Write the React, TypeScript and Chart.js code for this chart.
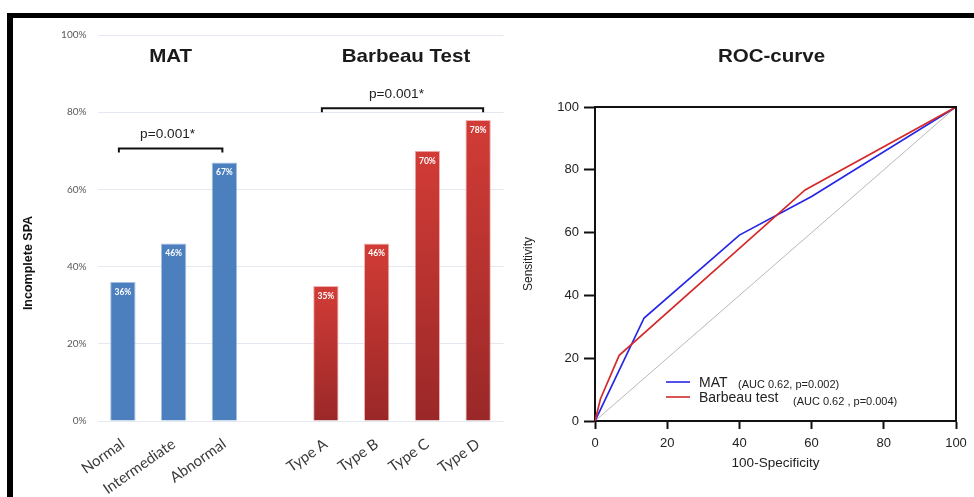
import React, { useEffect, useRef } from "react";
import { Chart, registerables } from "chart.js";
Chart.register(...registerables);

// ---- data ----
const barCategories = ["Normal", "Intermediate", "Abnormal", "", "Type A", "Type B", "Type C", "Type D"];
const barValues: (number | null)[] = [36, 46, 67, null, 35, 46, 70, 78];
const barGroup = ["MAT", "MAT", "MAT", "", "Barbeau", "Barbeau", "Barbeau", "Barbeau"];
const groupTitles = ["MAT", "Barbeau Test"];
const pValueLabels = ["p=0.001*", "p=0.001*"];
const pBracketLevels = [70.6, 81];

const rocMatX = [0, 13.6, 40, 60, 100];
const rocMatY = [0, 32.8, 59.2, 71.5, 100];
const rocBarX = [0, 1.5, 6.7, 58.2, 100];
const rocBarY = [0, 7, 20.9, 73.6, 100];
const rocRefX = [0, 100];
const rocRefY = [0, 100];
const legendNames = ["MAT", "Barbeau test"];
const legendNotes = ["(AUC 0.62, p=0.002)", "(AUC 0.62 , p=0.004)"];

const BLUE = "#4b7fbd";
const SANS = "'Liberation Sans', Arial, sans-serif";
const LATO = "Lato, 'Liberation Sans', sans-serif";

function stretchedText(ctx: CanvasRenderingContext2D, text: string, cx: number, baseline: number, font: string, sx: number, color: string) {
  ctx.save();
  ctx.translate(cx, baseline);
  ctx.scale(sx, 1);
  ctx.font = font;
  ctx.fillStyle = color;
  ctx.textAlign = "center";
  ctx.textBaseline = "alphabetic";
  ctx.fillText(text, 0, 0);
  ctx.restore();
}

const leftDecor = {
  id: "leftDecor",
  afterDatasetsDraw(chart: any) {
    const { ctx, scales } = chart;
    const x = scales.x, y = scales.y;
    ctx.save();
    // value labels
    ctx.fillStyle = "#ffffff";
    ctx.font = `bold 8.5px ${LATO}`;
    ctx.textAlign = "center";
    ctx.textBaseline = "middle";
    barValues.forEach((v, i) => {
      if (v == null) return;
      ctx.fillText(v + "%", x.getPixelForValue(i), y.getPixelForValue(v) + 10);
    });
    // group titles
    const matC = (x.getPixelForValue(0) + x.getPixelForValue(2)) / 2;
    const barC = (x.getPixelForValue(4) + x.getPixelForValue(7)) / 2;
    stretchedText(ctx, groupTitles[0], matC - 3, 44, `bold 19px ${SANS}`, 1.08, "#1a1a1a");
    stretchedText(ctx, groupTitles[1], barC + 4, 44, `bold 19px ${SANS}`, 1.08, "#1a1a1a");
    // brackets
    ctx.strokeStyle = "#111";
    ctx.lineWidth = 2;
    const brackets = [
      { x0: x.getPixelForValue(0) - 4, x1: x.getPixelForValue(2) - 2, lvl: pBracketLevels[0], dx: -3 },
      { x0: x.getPixelForValue(4) - 4, x1: x.getPixelForValue(7) + 5, lvl: pBracketLevels[1], dx: -6 },
    ];
    brackets.forEach((b, k) => {
      const yb = y.getPixelForValue(b.lvl);
      ctx.beginPath();
      ctx.moveTo(b.x0, yb + 4);
      ctx.lineTo(b.x0, yb);
      ctx.lineTo(b.x1, yb);
      ctx.lineTo(b.x1, yb + 4);
      ctx.stroke();
      stretchedText(ctx, pValueLabels[k], (b.x0 + b.x1) / 2 + b.dx, yb - 10, `13px ${SANS}`, 1.05, "#222");
    });
    // y title
    ctx.save();
    ctx.translate(16, 245);
    ctx.rotate(-Math.PI / 2);
    ctx.font = `bold 12.5px ${SANS}`;
    ctx.fillStyle = "#111";
    ctx.textAlign = "center";
    ctx.textBaseline = "middle";
    ctx.fillText("Incomplete SPA", 0, 0);
    ctx.restore();
    ctx.restore();
  },
};

const rightDecor = {
  id: "rightDecor",
  afterDraw(chart: any) {
    const { ctx, chartArea } = chart;
    const { left, right, top, bottom } = chartArea;
    ctx.save();
    ctx.strokeStyle = "#111";
    ctx.lineWidth = 2;
    ctx.beginPath();
    ctx.moveTo(left, top);
    ctx.lineTo(right, top);
    ctx.lineTo(right, bottom);
    ctx.stroke();
    stretchedText(ctx, "ROC-curve", (left + right) / 2 - 4, 44, `bold 19px ${SANS}`, 1.08, "#1a1a1a");
    // axis titles
    stretchedText(ctx, "100-Specificity", (left + right) / 2 + 0, bottom + 46, `13.5px ${SANS}`, 1.0, "#222");
    ctx.save();
    ctx.translate(9, (top + bottom) / 2);
    ctx.rotate(-Math.PI / 2);
    ctx.font = `12px ${SANS}`;
    ctx.fillStyle = "#222";
    ctx.textAlign = "center";
    ctx.textBaseline = "middle";
    ctx.fillText("Sensitivity", 0, 0);
    ctx.restore();
    // legend
    const colors = ["#2626e6", "#d42a2a"];
    const lx = left + 71;
    const rows = [top + 275, top + 290];
    const noteX = [lx + 72, lx + 127];
    rows.forEach((ry, k) => {
      ctx.strokeStyle = colors[k];
      ctx.lineWidth = 1.6;
      ctx.beginPath();
      ctx.moveTo(lx, ry);
      ctx.lineTo(lx + 24, ry);
      ctx.stroke();
      ctx.fillStyle = "#222";
      ctx.font = `14px ${SANS}`;
      ctx.textAlign = "left";
      ctx.textBaseline = "alphabetic";
      ctx.fillText(legendNames[k], lx + 33, ry + 5);
      ctx.font = `11px ${SANS}`;
      ctx.fillText(legendNotes[k], noteX[k], ry + 6 + k * 2);
    });
    ctx.restore();
  },
};

function toPts(xs: number[], ys: number[]) {
  return xs.map((v, i) => ({ x: v, y: ys[i] }));
}

export default function App() {
  const leftRef = useRef<HTMLCanvasElement>(null);
  const rightRef = useRef<HTMLCanvasElement>(null);

  useEffect(() => {
    const left = new Chart(leftRef.current!, {
      type: "bar",
      data: {
        labels: barCategories,
        datasets: [
          {
            data: barValues as any,
            barPercentage: 0.5,
            categoryPercentage: 1.0,
            borderWidth: 1,
            borderColor: (c: any) => (barGroup[c.dataIndex] === "MAT" ? "rgba(140,175,220,0.8)" : "rgba(235,160,160,0.8)"),
            backgroundColor: (c: any) => {
              if (c.type !== "data") return BLUE;
              const i = c.dataIndex;
              if (barGroup[i] === "MAT") return BLUE;
              const v = barValues[i];
              const ys = c.chart.scales.y;
              if (!ys || v == null) return "#c03530";
              const t = ys.getPixelForValue(v);
              const b = ys.getPixelForValue(0);
              const g = c.chart.ctx.createLinearGradient(0, t, 0, b);
              g.addColorStop(0, "#d23c36");
              g.addColorStop(1, "#9a2828");
              return g;
            },
          },
        ],
      },
      options: {
        responsive: false,
        animation: false,
        devicePixelRatio: 1,
        layout: { padding: { top: 15, right: 16.5, left: 0, bottom: 0 } },
        plugins: { legend: { display: false }, tooltip: { enabled: false } },
        scales: {
          x: {
            type: "category",
            grid: { display: false },
            border: { display: false },
            ticks: {
              autoSkip: false,
              minRotation: 35,
              maxRotation: 35,
              padding: 6,
              color: "#3a3a3a",
              font: { family: LATO, size: 15 },
            },
            afterFit: (s: any) => {
              s.height = 76;
            },
          },
          y: {
            min: 0,
            max: 100,
            ticks: {
              stepSize: 20,
              padding: 11,
              color: "#595959",
              font: { family: LATO, size: 10 },
              callback: (v: any) => v + "%",
            },
            grid: { color: "#e4e9f1", drawTicks: false, lineWidth: 1 },
            border: { display: false },
            afterFit: (s: any) => {
              s.width = 84.5;
            },
          },
        },
      },
      plugins: [leftDecor],
    });

    const right = new Chart(rightRef.current!, {
      type: "scatter",
      data: {
        datasets: [
          {
            data: toPts(rocBarX, rocBarY),
            showLine: true,
            borderColor: "#d42a2a",
            borderWidth: 1.7,
            pointRadius: 0,
            tension: 0,
          },
          {
            data: toPts(rocMatX, rocMatY),
            showLine: true,
            borderColor: "#2626e6",
            borderWidth: 1.7,
            pointRadius: 0,
            tension: 0,
          },
          {
            data: toPts(rocRefX, rocRefY),
            showLine: true,
            borderColor: "#b8b8b8",
            borderWidth: 1,
            pointRadius: 0,
            tension: 0,
          },
        ],
      },
      options: {
        responsive: false,
        animation: false,
        devicePixelRatio: 1,
        layout: { padding: { top: 89, right: 18, left: 0, bottom: 0 } },
        plugins: { legend: { display: false }, tooltip: { enabled: false } },
        scales: {
          x: {
            type: "linear",
            min: 0,
            max: 100,
            ticks: { stepSize: 20, padding: 7, color: "#222", font: { family: SANS, size: 13 } },
            grid: { drawOnChartArea: false, drawTicks: true, tickLength: 8, tickColor: "#111", tickWidth: 2 },
            border: { color: "#111", width: 2 },
            afterFit: (s: any) => {
              s.height = 76;
            },
          },
          y: {
            type: "linear",
            min: 0,
            max: 100,
            ticks: { stepSize: 20, padding: 5, color: "#222", font: { family: SANS, size: 13 } },
            grid: { drawOnChartArea: false, drawTicks: true, tickLength: 11, tickColor: "#111", tickWidth: 2 },
            border: { color: "#111", width: 2 },
            afterFit: (s: any) => {
              s.width = 75;
            },
          },
        },
      },
      plugins: [rightDecor],
    });

    return () => {
      left.destroy();
      right.destroy();
    };
  }, []);

  return (
    <div style={{ position: "absolute", left: 0, top: 0, width: 974, height: 497, overflow: "hidden", background: "#fff" }}>
      <div style={{ position: "absolute", left: 7, top: 13, width: 967, height: 5, background: "#000" }} />
      <div style={{ position: "absolute", left: 7, top: 13, width: 6, height: 484, background: "#000" }} />
      <canvas ref={leftRef} width={507} height={479} style={{ position: "absolute", left: 13, top: 18, width: 507, height: 479 }} />
      <canvas ref={rightRef} width={454} height={479} style={{ position: "absolute", left: 520, top: 18, width: 454, height: 479 }} />
    </div>
  );
}
